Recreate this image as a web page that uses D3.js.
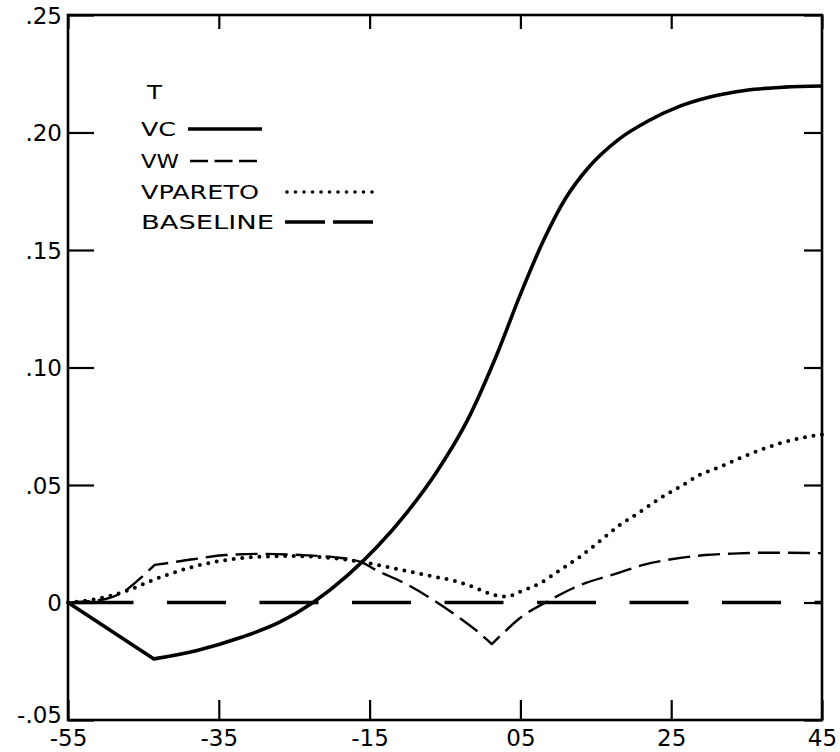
<!DOCTYPE html>
<html>
<head>
<meta charset="utf-8">
<script src="https://cdn.jsdelivr.net/npm/d3@7"></script>
<style>
  html, body { margin: 0; padding: 0; background: #fff; }
  svg { display: block; }
  text { font-family: "DejaVu Sans", "Liberation Sans", Arial, sans-serif; fill: #000; }
</style>
</head>
<body>
<svg id="chart" width="840" height="752"></svg>
<script>
// ---------------- data ----------------
const xTicks = [-55, -35, -15, 5, 25, 45];
const xTickLabels = ["-55", "-35", "-15", "05", "25", "45"];
const yTicks = [-0.05, 0, 0.05, 0.10, 0.15, 0.20, 0.25];
const yTickLabels = ["-.05", "0", ".05", ".10", ".15", ".20", ".25"];

const legendTitle = "T";
const seriesNames = ["VC", "VW", "VPARETO", "BASELINE"];

// VC (solid)
const vcX = [-55, -43.6, -38, -32, -27, -22.5, -18, -14, -10, -6, -2, 2, 5, 8, 11, 14, 18, 22, 26, 30, 35, 40, 45];
const vcY = [0, -0.024, -0.0205, -0.0148, -0.0085, 0, 0.0113, 0.0237, 0.0385, 0.0561, 0.0777, 0.1065, 0.1311, 0.1536, 0.1720, 0.1850, 0.1970, 0.2050, 0.2110, 0.2150, 0.2180, 0.2193, 0.2198];
const vcKinks = [-43.6];

// VW (short dash)
const vwX = [-55, -50, -47, -45, -43.5, -41.9, -38.4, -34, -29, -24.2, -19.8, -16.3, -13.9, -10.6, -7, -3, -0.4, 1.2, 2.7, 4.9, 8.5, 12.9, 17.8, 21.3, 25, 29.5, 33.9, 38, 45];
const vwY = [0, 0.0015, 0.006, 0.0115, 0.016, 0.0167, 0.0184, 0.0202, 0.0207, 0.0202, 0.0193, 0.0174, 0.0134, 0.0086, 0.0020, -0.0067, -0.0131, -0.0177, -0.0131, -0.0067, 0.0003, 0.0074, 0.0124, 0.0160, 0.0184, 0.0202, 0.0209, 0.0212, 0.0210];
const vwKinks = [-43.5, 1.2];

// VPARETO (dotted)
const vpX = [-55, -49.4, -46.8, -43.7, -41.9, -38.4, -35.3, -32.2, -28.6, -25, -22, -19, -16.3, -13.2, -9.6, -6.5, -3.4, -0.4, 1.2, 3.2, 4.95, 7.6, 10.25, 12.9, 15.3, 18.2, 20.9, 23.5, 26.2, 28.8, 31.5, 34.1, 36.8, 39.4, 42.1, 45];
const vpY = [0, 0.0028, 0.0055, 0.0096, 0.0117, 0.0152, 0.0174, 0.0188, 0.0196, 0.0198, 0.0194, 0.0186, 0.0174, 0.0155, 0.0131, 0.0110, 0.0089, 0.0055, 0.0035, 0.0025, 0.0046, 0.0082, 0.0138, 0.0195, 0.0255, 0.0330, 0.0386, 0.0443, 0.0493, 0.0543, 0.0578, 0.0614, 0.0649, 0.0677, 0.0699, 0.0715];
const vpKinks = [];

// BASELINE (long dash)
const blX = [-55, 45];
const blY = [0, 0];
const blKinks = [];

// ---------------- chart ----------------
const svg = d3.select("#chart");
const L = 68, R = 822, T = 15, B = 720;
const x = d3.scaleLinear().domain([-55, 45]).range([L, R]);
const y = d3.scaleLinear().domain([-0.05, 0.25]).range([B, T]);
const FONT = "'DejaVu Sans', 'Liberation Sans', Arial, sans-serif";

const toPts = (xs, ys) => xs.map((v, i) => [v, ys[i]]);

// one continuous path with sharp corners at kinks
function pathWithKinks(pts, kinks) {
  const segs = [];
  let cur = [];
  pts.forEach(p => {
    cur.push(p);
    if (kinks.includes(p[0])) { segs.push(cur); cur = [p]; }
  });
  if (cur.length > 1) segs.push(cur);
  const gen = d3.line().x(d => x(d[0])).y(d => y(d[1])).curve(d3.curveMonotoneX);
  return segs.map((s, i) => {
    const d = gen(s);
    return i === 0 ? d : d.replace(/^M/, "L");
  }).join("");
}

// axes (ticks inward)
const gx = svg.append("g").attr("transform", `translate(0,${B})`)
  .call(d3.axisBottom(x).tickValues(xTicks).tickSize(-20)
    .tickFormat((d, i) => xTickLabels[i]));
const gxTop = svg.append("g").attr("transform", `translate(0,${T})`)
  .call(d3.axisTop(x).tickValues(xTicks).tickSize(-14).tickFormat(""));
const gy = svg.append("g").attr("transform", `translate(${L},0)`)
  .call(d3.axisLeft(y).tickValues(yTicks).tickSize(-26)
    .tickFormat((d, i) => yTickLabels[i]));
const gyR = svg.append("g").attr("transform", `translate(${R},0)`)
  .call(d3.axisRight(y).tickValues(yTicks).tickSize(-18).tickFormat(""));

[gx, gxTop, gy, gyR].forEach(g => {
  g.attr("font-family", null).attr("font-size", null);
  g.select(".domain").remove();
  g.selectAll(".tick line").attr("stroke", "#000").attr("stroke-width", 2.2);
  g.selectAll(".tick text").style("font-family", FONT).style("font-size", "23px").attr("fill", "#000");
});
gx.selectAll(".tick text").attr("y", 9).attr("dy", "0.76em");
gy.selectAll(".tick text").attr("x", -6).attr("dy", "0.36em");
gy.selectAll(".tick").filter(d => d === -0.05).select("text").attr("dy", "0.1em");

// frame
svg.append("rect").attr("x", L).attr("y", T).attr("width", R - L).attr("height", B - T)
  .attr("fill", "none").attr("stroke", "#000").attr("stroke-width", 2.6);

// series
const series = [
  { pts: toPts(blX, blY), kinks: blKinks, w: 3.5, dash: "59,33.5", off: 86, cap: "butt" },
  { pts: toPts(vpX, vpY), kinks: vpKinks, w: 4, dash: "0,8.6", off: 0, cap: "round" },
  { pts: toPts(vwX, vwY), kinks: vwKinks, w: 2.4, dash: "22,8", off: 0, cap: "butt" },
  { pts: toPts(vcX, vcY), kinks: vcKinks, w: 3.6, dash: null, off: 0, cap: "butt" }
];
series.forEach(s => {
  svg.append("path")
    .attr("d", pathWithKinks(s.pts, s.kinks))
    .attr("fill", "none")
    .attr("stroke", "#000")
    .attr("stroke-width", s.w)
    .attr("stroke-linecap", s.cap)
    .attr("stroke-linejoin", "round")
    .attr("stroke-dasharray", s.dash)
    .attr("stroke-dashoffset", s.off);
});

// legend
const lg = svg.append("g");
lg.append("text").attr("x", 147).attr("y", 92).attr("dy", "0.36em")
  .style("font-size", "20px").attr("textLength", 15).attr("lengthAdjust", "spacingAndGlyphs")
  .text(legendTitle);
const legendRows = [
  { name: seriesNames[0], y: 129, len: 35, x1: 188, x2: 262, w: 3.4, dash: null, cap: "butt" },
  { name: seriesNames[1], y: 161, len: 38, x1: 190, x2: 257, w: 2.4, dash: "18,6.5", cap: "butt" },
  { name: seriesNames[2], y: 192, len: 118, x1: 287, x2: 373, w: 3.6, dash: "0,8.5", cap: "round" },
  { name: seriesNames[3], y: 222, len: 133, x1: 285, x2: 373, w: 3.4, dash: "40,8", cap: "butt" }
];
legendRows.forEach(r => {
  lg.append("text").attr("x", 141).attr("y", r.y).attr("dy", "0.36em")
    .style("font-size", "20px").attr("textLength", r.len).attr("lengthAdjust", "spacingAndGlyphs")
    .text(r.name);
  lg.append("line").attr("x1", r.x1).attr("x2", r.x2).attr("y1", r.y).attr("y2", r.y)
    .attr("stroke", "#000").attr("stroke-width", r.w)
    .attr("stroke-linecap", r.cap).attr("stroke-dasharray", r.dash);
});
</script>
</body>
</html>
